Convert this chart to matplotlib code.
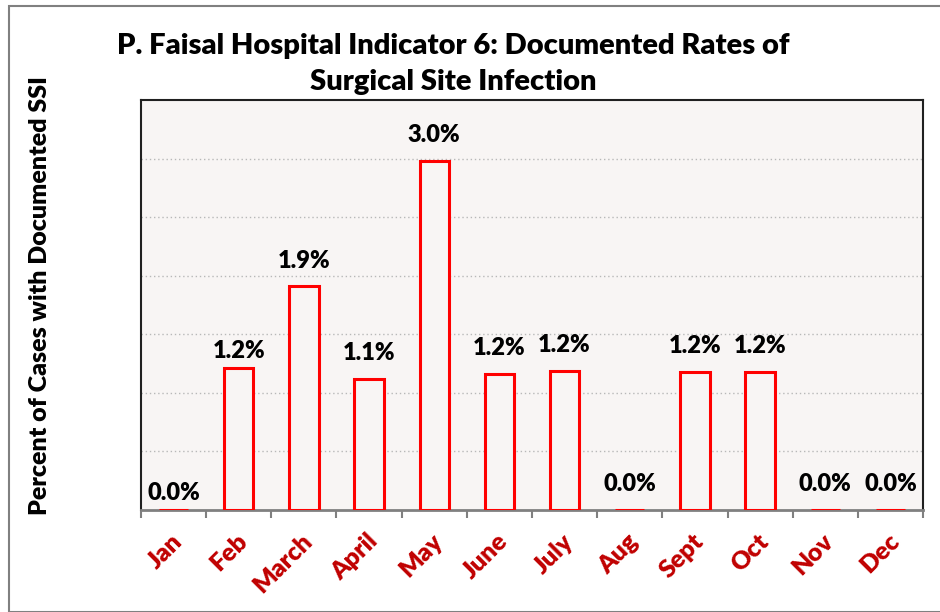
import matplotlib
matplotlib.use("Agg")
import matplotlib.pyplot as plt
from matplotlib.patches import Rectangle
from matplotlib.transforms import ScaledTranslation

months = ["Jan", "Feb", "March", "April", "May", "June", "July", "Aug", "Sept", "Oct", "Nov", "Dec"]
rates = [0.0, 1.21, 1.91, 1.12, 2.98, 1.16, 1.19, 0.0, 1.18, 1.18, 0.0, 0.0]
title = "P. Faisal Hospital Indicator 6: Documented Rates of\nSurgical Site Infection"
ylabel = "Percent of Cases with Documented SSI"

# label gap above bar (points), style only
label_gap = [7.2, 7.2, 13.5, 13.5, 13.5, 13.5, 13.5, 13.5, 13.5, 13.5, 13.5, 13.5]

plt.rcParams['font.family'] = ['Lato', 'DejaVu Sans']
WEIGHT = "heavy"

W, H = 940, 612
fig = plt.figure(figsize=(W / 100, H / 100), dpi=100)
fig.patches.append(Rectangle((8.5 / W, 0), 2, 1 - 5.5 / H, transform=fig.transFigure,
                             fill=False, edgecolor="#808080", linewidth=1.5))

ax = fig.add_axes([141 / W, 1 - 510 / H, (923 - 141) / W, (510 - 100) / H])
ax.set_facecolor("#F8F5F4")
x = list(range(len(months)))
ax.bar(x, rates, width=0.45, facecolor="#F8F5F4", edgecolor="#FF0000", linewidth=2.2, zorder=3)
ax.set_xlim(-0.5, len(months) - 0.5)
ax.set_ylim(0, 3.5)
ax.set_yticks([0.5, 1.0, 1.5, 2.0, 2.5, 3.0])
ax.yaxis.grid(True, linestyle=(0, (1, 2)), color="#B8B8B8", linewidth=1.0, zorder=0)
ax.tick_params(axis="y", length=0, labelleft=False)

ax.set_xticks([i - 0.5 for i in range(len(months) + 1)], minor=False)
ax.set_xticklabels([])
ax.set_xticks(x, minor=True)
ax.set_xticklabels(months, minor=True, rotation=45, ha="right", va="center",
                   rotation_mode="anchor", color="#C00000", fontweight=WEIGHT, fontsize=18)
ax.tick_params(axis="x", which="major", length=6, width=1.5, color="#808080", direction="out")
ax.tick_params(axis="x", which="minor", length=0, pad=20)
shift = ScaledTranslation(5 / 100, 0, fig.dpi_scale_trans)
for lab in ax.get_xticklabels(minor=True):
    lab.set_transform(lab.get_transform() + shift)

for side in ["left", "top", "right"]:
    ax.spines[side].set_color("#202020")
    ax.spines[side].set_linewidth(1.5)
ax.spines["bottom"].set_color("#808080")
ax.spines["bottom"].set_linewidth(2)

for xi, v, g in zip(x, rates, label_gap):
    ax.annotate(f"{v:.1f}%", (xi, v), xytext=(0, g), textcoords="offset points",
                ha="center", va="baseline", fontsize=17, fontweight=WEIGHT, color="black", zorder=4)

fig.text(453 / W, 1 - 64 / H, title, ha="center", va="center", fontsize=21,
         fontweight=WEIGHT, linespacing=1.5)
fig.text(40 / W, 1 - 296 / H, ylabel, rotation=90, ha="center", va="center",
         fontsize=18, fontweight=WEIGHT)

fig.savefig("out.png", dpi=100)
